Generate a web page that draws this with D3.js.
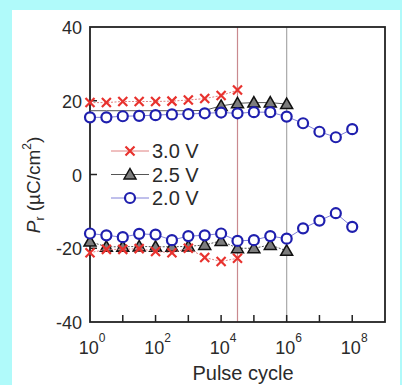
<!DOCTYPE html>
<html>
<head>
<meta charset="utf-8">
<script src="https://cdn.jsdelivr.net/npm/d3@7"></script>
<style>
  html, body { margin: 0; padding: 0; background: #b0fafa; }
  svg { display: block; }
  text { font-family: "Liberation Sans", Arial, sans-serif; fill: #2a2a2a; }
</style>
</head>
<body>
<div id="chart"></div>
<script>
// pulse cycles (half-decade steps)
var cycles = [1, 3.16, 10, 31.6, 100, 316, 1000, 3162, 1e4, 31623, 1e5, 316228, 1e6, 3162278, 1e7, 31622777, 1e8];

// 3.0 V (up to 10^4.5)
var v30Up = [19.5, 19.5, 19.8, 19.8, 19.8, 19.9, 20.2, 20.6, 21.4, 22.9];
var v30Dn = [-21.2, -20.3, -20.3, -20.1, -20.9, -21.2, -20.0, -22.5, -23.6, -22.7];
// 2.5 V (up to 10^6); upper markers hidden below 10^4
var v25Up = [17.3, 17.3, 17.3, 17.3, 17.3, 17.3, 17.3, 17.4, 18.6, 19.3, 19.5, 19.5, 19.1];
var v25Dn = [-18.2, -19.6, -19.6, -19.5, -19.6, -19.6, -19.5, -19.1, -18.0, -20.0, -20.0, -19.1, -20.7];
var v25UpFirstMark = 8;
// 2.0 V (up to 10^8)
var v20Up = [15.5, 15.5, 15.8, 15.9, 16.1, 16.3, 16.4, 16.6, 16.8, 16.6, 16.9, 16.9, 15.7, 13.9, 11.6, 10.1, 12.3];
var v20Dn = [-16.0, -16.5, -17.0, -16.1, -16.3, -17.8, -16.7, -16.5, -16.0, -18.0, -17.8, -16.7, -17.4, -14.6, -12.5, -10.5, -14.2];

var yTicks = [-40, -20, 0, 20, 40];
var xTicks = [1, 10, 100, 1e3, 1e4, 1e5, 1e6, 1e7, 1e8];
var xLabelExp = [0, 2, 4, 6, 8];
var markLines = [31623, 1e6];
var legendNames = ['3.0 V', '2.5 V', '2.0 V'];

var width = 402, height = 385;

var svg = d3.select('#chart').append('svg')
    .attr('width', width)
    .attr('height', height);

svg.append('rect')
    .attr('x', 12).attr('y', 10)
    .attr('width', 388).attr('height', 380)
    .attr('fill', '#fff');

var x = d3.scaleLog().domain([1, 1e9]).range([90, 385]);
var y = d3.scaleLinear().domain([-40, 40]).range([322, 27]);

// vertical marker lines
svg.selectAll('.vline')
    .data(markLines)
  .enter().append('line')
    .attr('x1', function(d) { return x(d); })
    .attr('x2', function(d) { return x(d); })
    .attr('y1', y(40)).attr('y2', y(-40))
    .attr('stroke', function(d, i) { return i === 0 ? '#c98a8f' : '#a9a9a9'; })
    .attr('stroke-width', 1.2);

// frame
svg.append('rect')
    .attr('x', x(1)).attr('y', y(40))
    .attr('width', x(1e9) - x(1)).attr('height', y(-40) - y(40))
    .attr('fill', 'none')
    .attr('stroke', '#222')
    .attr('stroke-width', 1.8);

// x ticks (inward)
svg.selectAll('.xt')
    .data(xTicks.slice(1))
  .enter().append('line')
    .attr('x1', function(d) { return x(d); })
    .attr('x2', function(d) { return x(d); })
    .attr('y1', y(-40)).attr('y2', y(-40) - 7)
    .attr('stroke', '#222').attr('stroke-width', 1.5);

// y ticks (inward)
svg.selectAll('.yt')
    .data(yTicks.slice(1, -1))
  .enter().append('line')
    .attr('x1', x(1)).attr('x2', x(1) + 7)
    .attr('y1', function(d) { return y(d); })
    .attr('y2', function(d) { return y(d); })
    .attr('stroke', '#222').attr('stroke-width', 1.5);

svg.selectAll('.yl')
    .data(yTicks)
  .enter().append('text')
    .attr('x', x(1) - 8)
    .attr('y', function(d) { return y(d) + 7; })
    .attr('text-anchor', 'end')
    .style('font-size', '18px')
    .text(function(d) { return d; });

var xl = svg.selectAll('.xl')
    .data(xLabelExp)
  .enter().append('text')
    .attr('x', function(d) { return x(Math.pow(10, d)) + 2; })
    .attr('y', 354)
    .attr('text-anchor', 'middle')
    .style('font-size', '18px');
xl.append('tspan').text('10');
xl.append('tspan')
    .attr('dy', -12)
    .style('font-size', '12px')
    .text(function(d) { return d; });

svg.append('text')
    .attr('x', 243).attr('y', 380)
    .attr('text-anchor', 'middle')
    .style('font-size', '20px')
    .text('Pulse cycle');

var yt = svg.append('text')
    .attr('transform', 'translate(40,' + 185 + ') rotate(-90)')
    .attr('text-anchor', 'middle')
    .style('font-size', '19px');
yt.append('tspan').style('font-style', 'italic').text('P');
yt.append('tspan').attr('dy', 4).style('font-size', '12px').text('r');
yt.append('tspan').attr('dy', -4).text(' (\u00b5C/cm');
yt.append('tspan').attr('dy', -9).style('font-size', '12px').text('2');
yt.append('tspan').attr('dy', 9).text(')');

var line = d3.line()
    .x(function(d) { return x(d[0]); })
    .y(function(d) { return y(d[1]); });

function pairs(vals) {
  return vals.map(function(v, i) { return [cycles[i], v]; });
}

var series = [
  { vals: v25Up, first: v25UpFirstMark, line: '#555', dash: null, kind: 'tri' },
  { vals: v25Dn, first: 0, line: '#555', dash: '2,1.5', kind: 'tri' },
  { vals: v30Up, first: 0, line: '#e08080', dash: '2,1.5', kind: 'x' },
  { vals: v30Dn, first: 0, line: '#e08080', dash: '2,1.5', kind: 'x' },
  { vals: v20Up, first: 0, line: '#8080d8', dash: null, kind: 'circ' },
  { vals: v20Dn, first: 0, line: '#8080d8', dash: null, kind: 'circ' }
];

function drawMarker(g, kind) {
  if (kind === 'x') {
    g.append('path')
        .attr('d', 'M-4.5,-4.5L4.5,4.5M-4.5,4.5L4.5,-4.5')
        .attr('stroke', '#e8322e')
        .attr('stroke-width', 2.2)
        .attr('fill', 'none');
  } else if (kind === 'tri') {
    g.append('path')
        .attr('d', 'M0,-6L6,4.5L-6,4.5Z')
        .attr('fill', '#7d7d7d')
        .attr('stroke', '#111')
        .attr('stroke-width', 1.5);
  } else {
    g.append('circle')
        .attr('r', 5)
        .attr('fill', '#fff')
        .attr('stroke', '#1f1fae')
        .attr('stroke-width', 2.2);
  }
}

series.forEach(function(s) {
  var pts = pairs(s.vals);
  svg.append('path')
      .datum(pts)
      .attr('d', line)
      .attr('fill', 'none')
      .attr('stroke', s.line)
      .attr('stroke-width', 1)
      .attr('stroke-dasharray', s.dash);
  svg.selectAll(null)
      .data(pts.slice(s.first))
    .enter().append('g')
      .attr('transform', function(d) { return 'translate(' + x(d[0]) + ',' + y(d[1]) + ')'; })
      .each(function() { drawMarker(d3.select(this), s.kind); });
});

// legend
var legKinds = ['x', 'tri', 'circ'];
var legLines = ['#e08080', '#555', '#8080d8'];
var leg = svg.selectAll('.leg')
    .data(legendNames)
  .enter().append('g')
    .attr('transform', function(d, i) { return 'translate(130,' + (151 + i * 23.5) + ')'; });
leg.append('line')
    .attr('x1', -19).attr('x2', 19)
    .attr('stroke', function(d, i) { return legLines[i]; })
    .attr('stroke-width', 1);
leg.each(function(d, i) { drawMarker(d3.select(this), legKinds[i]); });
leg.append('text')
    .attr('x', 22).attr('y', 7)
    .style('font-size', '20px')
    .text(function(d) { return d; });
</script>
</body>
</html>
